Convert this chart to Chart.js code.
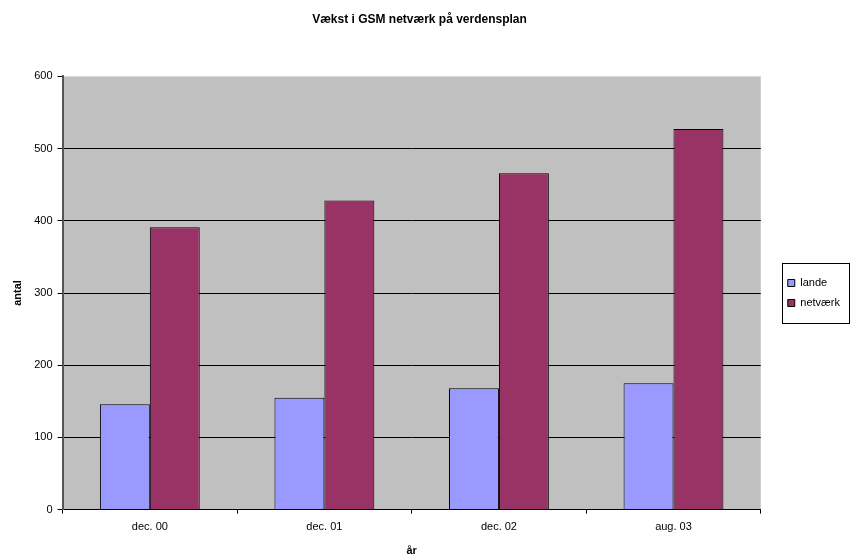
<!DOCTYPE html>
<html>
<head>
<meta charset="utf-8">
<script src="https://cdn.jsdelivr.net/npm/chart.js@4.4.0/dist/chart.umd.min.js"></script>
<style>
  html, body { margin: 0; padding: 0; background: #fff; }
  #wrap { width: 851px; height: 560px; }
</style>
</head>
<body>
<div id="wrap"><canvas id="gsmChart" width="851" height="560"></canvas></div>
<script>
const categories = ['dec. 00', 'dec. 01', 'dec. 02', 'aug. 03'];
const landeValues = [146, 155, 168, 175];
const netvaerkValues = [391, 428, 466, 527];
const yTicks = [0, 100, 200, 300, 400, 500, 600];

document.addEventListener('DOMContentLoaded', () => {
    const ctx = document.getElementById('gsmChart').getContext('2d');
    const font = { family: 'Liberation Sans, Arial, sans-serif', size: 11 };

    // grey plot background + framed legend, like the old Excel look
    const excelLook = {
        id: 'excelLook',
        afterLayout(chart) {
            // push the legend out towards the right edge, away from the plot
            const lg = chart.legend;
            const shift = chart.width - 1 - lg.right;
            lg.left += shift;
            lg.right += shift;
        },
        beforeDraw(chart) {
            const a = chart.chartArea;
            const c = chart.ctx;
            c.save();
            c.fillStyle = '#c0c0c0';
            c.fillRect(a.left, a.top, a.right - a.left, a.bottom - a.top);
            c.restore();
        },
        afterDraw(chart) {
            const lg = chart.legend;
            const c = chart.ctx;
            const n = chart.data.datasets.length;
            const h = n * 20 + 20;
            const mid = (lg.top + lg.bottom) / 2;
            c.save();
            c.strokeStyle = '#000';
            c.lineWidth = 1;
            c.strokeRect(Math.round(lg.left) + 3.5, Math.round(mid - h / 2) + 0.5, Math.round(lg.right - lg.left) - 4, h);
            c.restore();
        }
    };

    new Chart(ctx, {
        type: 'bar',
        data: {
            labels: categories,
            datasets: [{
                label: 'lande',
                data: landeValues,
                backgroundColor: '#9999ff',
                borderColor: '#000',
                borderWidth: 1
            }, {
                label: 'netværk',
                data: netvaerkValues,
                backgroundColor: '#993366',
                borderColor: '#000',
                borderWidth: 1
            }]
        },
        options: {
            responsive: false,
            animation: false,
            layout: { padding: { left: 7, right: 19, top: 0, bottom: 2 } },
            categoryPercentage: 0.572,
            barPercentage: 1,
            plugins: {
                title: {
                    display: true,
                    text: 'Vækst i GSM netværk på verdensplan',
                    color: '#000',
                    font: { ...font, size: 12, weight: 'bold' },
                    padding: { top: 12, bottom: 50 }
                },
                legend: {
                    position: 'right',
                    fullSize: false,
                    labels: {
                        color: '#000',
                        font: font,
                        boxWidth: 7,
                        boxHeight: 7,
                        padding: 9,
                        useBorderRadius: false
                    }
                },
                tooltip: { enabled: false }
            },
            scales: {
                x: {
                    grid: {
                        display: true,
                        drawOnChartArea: false,
                        drawTicks: true,
                        tickLength: 4,
                        color: '#000'
                    },
                    border: { color: '#000', width: 1 },
                    ticks: { color: '#000', font: font, padding: 7 },
                    title: {
                        display: true,
                        text: 'år',
                        color: '#000',
                        font: { ...font, weight: 'bold' },
                        padding: { top: 4, bottom: 0 }
                    }
                },
                y: {
                    min: 0,
                    max: 600,
                    afterBuildTicks: axis => {
                        axis.ticks = yTicks.map(v => ({ value: v }));
                    },
                    grid: {
                        color: c => (c.tick && c.tick.value === 600 ? 'rgba(0,0,0,0)' : '#000'),
                        tickColor: '#000',
                        tickLength: 5,
                        drawTicks: true
                    },
                    border: { color: '#555', width: 2 },
                    ticks: { color: '#000', font: font, padding: 5 },
                    title: {
                        display: true,
                        text: 'antal',
                        color: '#000',
                        font: { ...font, weight: 'bold' },
                        padding: { bottom: 5 }
                    }
                }
            }
        },
        plugins: [excelLook]
    });
});
</script>
</body>
</html>
